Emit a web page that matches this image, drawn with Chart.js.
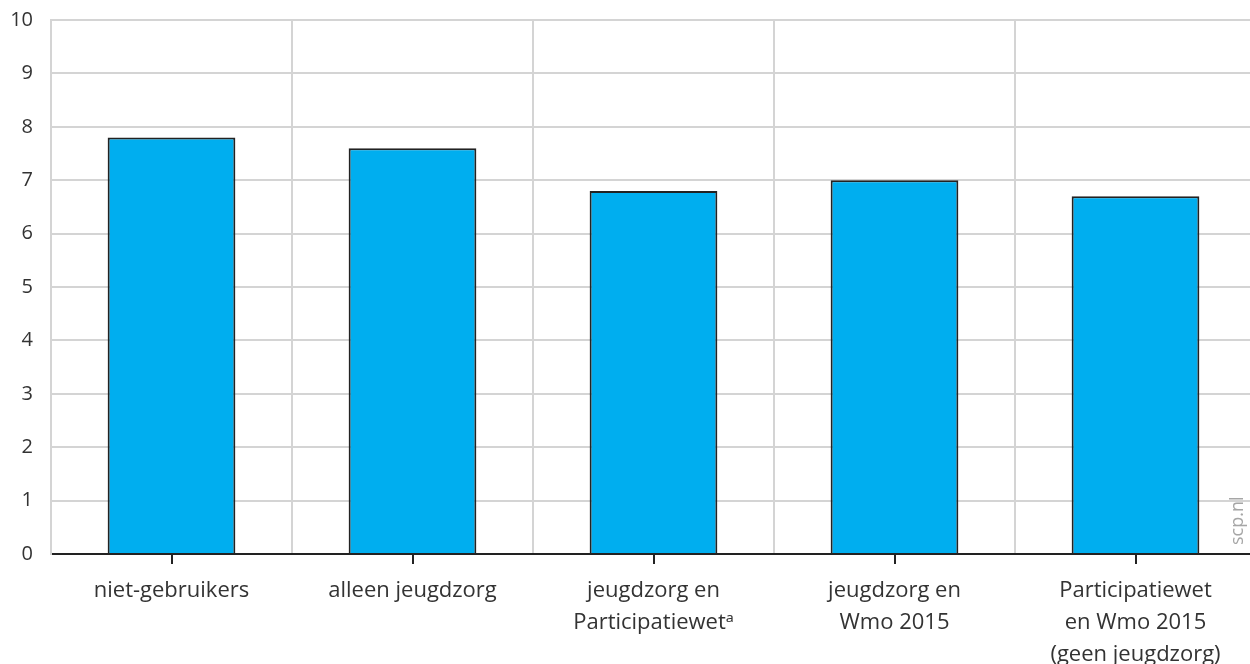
<!DOCTYPE html>
<html><head><meta charset="utf-8">
<script src="https://cdn.jsdelivr.net/npm/chart.js@4/dist/chart.umd.min.js"></script>
<style>
html,body{margin:0;padding:0;overflow:hidden;background:#fff;width:1250px;height:664px;}
#wrap{position:absolute;left:0;top:-10px;width:1256px;height:674px;}
</style></head>
<body>
<div id="wrap"><canvas id="c"></canvas></div>
<script>
const categories = [
  ["niet-gebruikers"],
  ["alleen jeugdzorg"],
  ["jeugdzorg en", "Participatiewetᵃ"],
  ["jeugdzorg en", "Wmo 2015"],
  ["Participatiewet", "en Wmo 2015", "(geen jeugdzorg)"]
];
const values = [7.8, 7.6, 6.8, 7.0, 6.7];
const yTicks = [0,1,2,3,4,5,6,7,8,9,10];
const watermark = "scp.nl";

const FONT = "'Open Sans', 'Noto Sans', sans-serif";

const centerTicks = {
  id: 'centerTicks',
  afterDatasetsDraw(chart) {
    const x = chart.scales.x, ctx = chart.ctx, b = chart.chartArea.bottom;
    ctx.save();
    ctx.strokeStyle = '#222'; ctx.lineWidth = 2;
    categories.forEach((c, i) => {
      const px = Math.round(x.getPixelForTick(i));
      ctx.beginPath(); ctx.moveTo(px, b); ctx.lineTo(px, b + 10); ctx.stroke();
    });
    ctx.restore();
  },
  afterDraw(chart) {
    const ctx = chart.ctx, a = chart.chartArea;
    ctx.save();
    ctx.translate(1238, a.bottom - 9);
    ctx.rotate(-Math.PI / 2);
    ctx.fillStyle = '#a6a6a6';
    ctx.font = "18px " + FONT;
    ctx.textAlign = 'left'; ctx.textBaseline = 'middle';
    ctx.fillText(watermark, 0, 0);
    ctx.restore();
  }
};

new Chart(document.getElementById('c'), {
  type: 'bar',
  data: {
    labels: categories,
    datasets: [{
      data: values,
      backgroundColor: '#00aeef',
      borderColor: '#222222',
      borderWidth: 2,
      borderSkipped: 'bottom',
      categoryPercentage: 1,
      barPercentage: 0.53
    }]
  },
  options: {
    responsive: true,
    maintainAspectRatio: false,
    animation: false,
    layout: { padding: { top: 0, left: 0, right: 0, bottom: 0 } },
    plugins: { legend: { display: false }, tooltip: { enabled: false } },
    scales: {
      x: {
        afterFit(scale) { scale.height = 110; },
        grid: { color: '#d4d4d4', lineWidth: 2, drawTicks: false, offset: true },
        border: { color: '#222', width: 2 },
        ticks: { color: '#333', font: { family: FONT, size: 22, lineHeight: 1.45 }, padding: 21, maxRotation: 0, autoSkip: false }
      },
      y: {
        min: 0, max: 10,
        afterFit(scale) { scale.width = 51; },
        afterBuildTicks(scale) { scale.ticks = yTicks.map(v => ({ value: v })); },
        grid: { color: '#d4d4d4', lineWidth: 2, drawTicks: false },
        border: { color: '#d4d4d4', width: 2 },
        ticks: { color: '#333', font: { family: FONT, size: 20 }, padding: 18 }
      }
    }
  },
  plugins: [centerTicks]
});
</script>
</body></html>
